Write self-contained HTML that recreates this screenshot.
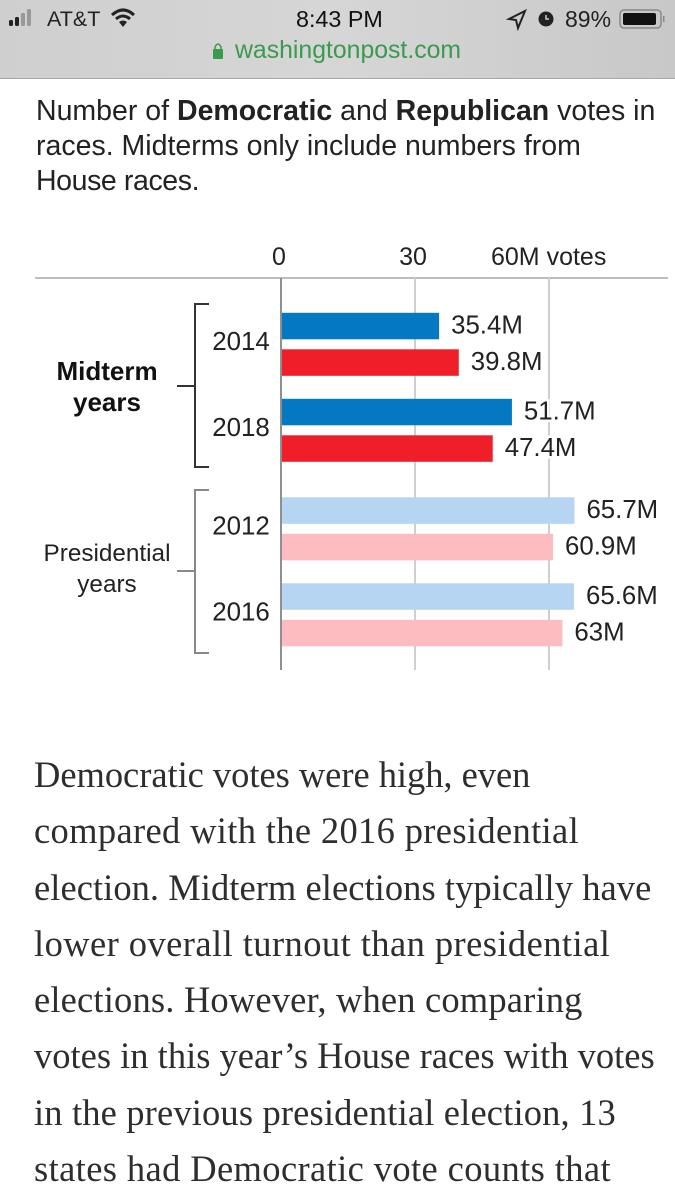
<!DOCTYPE html>
<html>
<head>
<meta charset="utf-8">
<style>
html,body{margin:0;padding:0;background:#fff;}
#page{position:relative;width:675px;height:1200px;overflow:hidden;background:#fff;font-family:"Liberation Sans",sans-serif;}
#topbar{position:absolute;left:0;top:0;width:675px;height:78px;background:linear-gradient(90deg,#cfcfcf,#d6d6d6 50%,#c8c8c8);border-bottom:1px solid #a8a8a8;}
.st{position:absolute;white-space:nowrap;color:#222;font-size:22px;line-height:26px;}
#intro{position:absolute;left:36px;top:94px;width:635px;font-size:28.5px;line-height:35px;color:#222;white-space:nowrap;}
#article{position:absolute;left:34px;top:747px;width:640px;font-family:"Liberation Serif",serif;font-size:36.5px;line-height:56.3px;color:#2e2e2e;white-space:nowrap;}
svg{position:absolute;left:0;top:0;}
svg text{font-family:"Liberation Sans",sans-serif;}
</style>
</head>
<body>
<div id="page">
  <div id="topbar">
    <svg width="675" height="78">
      <rect x="9" y="20" width="4" height="6" rx="1.5" fill="#222"/>
      <rect x="15" y="17" width="4" height="9" rx="1.5" fill="#222"/>
      <rect x="21" y="13" width="4" height="13" rx="1.5" fill="#999"/>
      <rect x="27" y="9" width="4" height="17" rx="1.5" fill="#999"/>
      <g fill="none" stroke="#222" stroke-width="3">
        <path d="M112 15 Q123 5 134 15"/>
        <path d="M116 19 Q123 13 130 19"/>
      </g>
      <path d="M119 22 L123 27 L127 22 Q123 19 119 22Z" fill="#222"/>
      <path d="M509 19 L525 11 L518 28 L516 20Z" fill="none" stroke="#222" stroke-width="2"/>
      <circle cx="546" cy="19" r="7.500" fill="#222"/>
      <path d="M546 15 V19 H549" fill="none" stroke="#ccc" stroke-width="1.500"/>
      <rect x="620" y="10" width="41" height="18" rx="4" fill="none" stroke="#888" stroke-width="1.500"/>
      <rect x="623" y="13" width="33" height="12" rx="2" fill="#111"/>
      <rect x="663" y="16" width="1.500" height="6" fill="#888"/>
      <rect x="213" y="49" width="10" height="10" rx="1" fill="#3a9a4e"/>
      <path d="M215 49 V47 Q218 41 221 47 V49" fill="none" stroke="#3a9a4e" stroke-width="1.500"/>
    </svg>
    <div class="st" style="left:47px;top:6px;font-size:21.500px;">AT&amp;T</div>
    <div class="st" style="left:296px;top:6px;font-size:23.300px;color:#111;">8:43 PM</div>
    <div class="st" style="left:565px;top:6px;font-size:23px;">89%</div>
    <div class="st" style="left:235px;top:38px;font-size:24.800px;color:#3a9a4e;">washingtonpost.com</div>
  </div>

  <div id="intro">Number of <b>Democratic</b> and <b>Republican</b> votes in<br>races. Midterms only include numbers from<br><span style="letter-spacing:-0.4px">House races.</span></div>

  <svg id="chart" width="675" height="1200"></svg>

  <div id="article"><span style="letter-spacing:-0.04px">Democratic votes were high, even</span><br><span style="letter-spacing:0.34px">compared with the 2016 presidential</span><br><span style="letter-spacing:0.05px">election. Midterm elections typically have</span><br><span style="letter-spacing:0.43px">lower overall turnout than presidential</span><br><span style="letter-spacing:0.17px">elections. However, when comparing</span><br>votes in this year’s House races with votes<br><span style="letter-spacing:0.15px">in the previous presidential election, 13</span><br><span style="letter-spacing:0.38px">states had Democratic vote counts that</span></div>
</div>
<script>
var years = ['2014','2018','2012','2016'];
var demVotes = [35.4, 51.7, 65.7, 65.6];
var repVotes = [39.8, 47.4, 60.9, 63];
var demLabels = ['35.4M','51.7M','65.7M','65.6M'];
var repLabels = ['39.8M','47.4M','60.9M','63M'];
var tickValues = [0, 30, 60];
var tickLabels = ['0','30','60M votes'];
var yearKinds = ['midterm','midterm','presidential','presidential'];

var svg = document.getElementById('chart');
var NS = 'http://www.w3.org/2000/svg';
function xScale(v){ return 281 + v * (549 - 281) / 60; }
var groupTops = [312.8, 398.8, 497.3, 583.3];
function yDem(i){ return groupTops[i]; }
function yRep(i){ return groupTops[i] + 36.5; }
var barH = 26.5;
function mk(tag, attrs, txt){
  var el = document.createElementNS(NS, tag);
  for (var k in attrs) el.setAttribute(k, attrs[k]);
  if (txt !== undefined) el.textContent = txt;
  svg.appendChild(el);
  return el;
}
var colors = {midterm:['#0478c2','#f01e28'], presidential:['#b5d5f2','#fdbcc0']};

var baseline = mk('line', {x1:35,x2:668,y1:278,y2:278,stroke:'#bdbdbd','stroke-width':2});



tickValues.forEach(function(v, i){
  if (v !== 0) {
    var g = mk('line', {x1:xScale(v),x2:xScale(v),y1:278,y2:670,stroke:'#cfcfcf','stroke-width':2});
    
    
  }
  var tx = i === 2 ? xScale(v) - 58 : xScale(v) - 2;
  var t = mk('text', {x:tx,y:265,'font-size':25,fill:'#222','text-anchor':i === 2 ? 'start' : 'middle'}, tickLabels[i]);
  
  
});

years.forEach(function(year, i){
  var c = colors[yearKinds[i]];
  var d = mk('rect', {x:xScale(0),y:yDem(i),width:xScale(demVotes[i])-xScale(0),height:barH,fill:c[0]});
  
  
  var r = mk('rect', {x:xScale(0),y:yRep(i),width:xScale(repVotes[i])-xScale(0),height:barH,fill:c[1]});
  
  
  var dl = mk('text', {x:xScale(demVotes[i])+12,y:yDem(i)+20.5,'font-size':25.800,fill:'#222',stroke:'#fff','stroke-width':5,'paint-order':'stroke'}, demLabels[i]);
  
  
  var rl = mk('text', {x:xScale(repVotes[i])+12,y:yRep(i)+20.5,'font-size':25.800,fill:'#222',stroke:'#fff','stroke-width':5,'paint-order':'stroke'}, repLabels[i]);
  
  
  var yl = mk('text', {x:241,y:yDem(i)+37,'font-size':25.900,fill:'#222','text-anchor':'middle'}, year);
  
  
});

var axis = mk('line', {x1:xScale(0),x2:xScale(0),y1:278,y2:670,stroke:'#8f8f8f','stroke-width':2});



var b1 = mk('path', {d:'M209 304 H195 V467 H209 M195 386 H177',fill:'none',stroke:'#333','stroke-width':2});


var b2 = mk('path', {d:'M209 490 H195 V653 H209 M195 571 H177',fill:'none',stroke:'#888','stroke-width':2});



var g1 = mk('text', {x:107,y:380,'font-size':26,'font-weight':'bold',fill:'#111','text-anchor':'middle'}, 'Midterm');


var g2 = mk('text', {x:107,y:411,'font-size':26,'font-weight':'bold',fill:'#111','text-anchor':'middle'}, 'years');


var g3 = mk('text', {x:107,y:561,'font-size':24.300,fill:'#222','text-anchor':'middle'}, 'Presidential');


var g4 = mk('text', {x:107,y:592,'font-size':24.300,fill:'#222','text-anchor':'middle'}, 'years');


</script>
</body>
</html>
